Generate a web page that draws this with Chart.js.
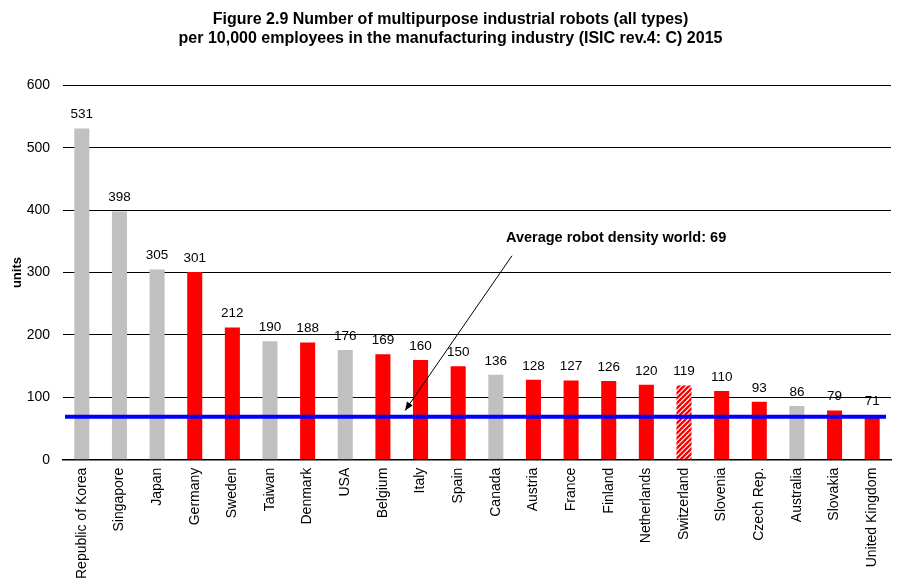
<!DOCTYPE html>
<html>
<head>
<meta charset="utf-8">
<script src="https://cdn.jsdelivr.net/npm/chart.js@4/dist/chart.umd.min.js"></script>
<style>
html,body{margin:0;padding:0;background:#fff;}
#wrap{width:900px;height:587px;}
</style>
</head>
<body>
<div id="wrap"><canvas id="c" width="900" height="587"></canvas></div>
<script>
const categories = ["Republic of Korea","Singapore","Japan","Germany","Sweden","Taiwan","Denmark","USA","Belgium","Italy","Spain","Canada","Austria","France","Finland","Netherlands","Switzerland","Slovenia","Czech Rep.","Australia","Slovakia","United Kingdom"];
const values = [531,398,305,301,212,190,188,176,169,160,150,136,128,127,126,120,119,110,93,86,79,71];
// bar type: g = grey, r = red, h = hatched red
const barKinds = ["g","g","g","r","r","g","r","g","r","r","r","g","r","r","r","r","h","r","r","g","r","r"];
const worldAverage = 69;
const yTicks = [0,100,200,300,400,500,600];
const titleLines = ["Figure 2.9 Number of multipurpose industrial robots (all types)","per 10,000 employees in the manufacturing industry (ISIC rev.4: C) 2015"];
const annotationText = "Average robot density world: " + worldAverage;
// annotation positions in data space (category index, value)
const arrowTail = [11.43, 327];
const arrowTip = [8.59, 79];
const textAnchor = [11.27, 355];

function hatch(){
  const s = 5;
  const cv = document.createElement('canvas');
  cv.width = s; cv.height = s;
  const x = cv.getContext('2d');
  x.fillStyle = '#fff'; x.fillRect(0,0,s,s);
  x.strokeStyle = '#ff0000'; x.lineWidth = 2.3;
  x.beginPath();
  x.moveTo(-1, s+1); x.lineTo(s+1, -1);
  x.moveTo(-1, 1); x.lineTo(1, -1);
  x.moveTo(s-1, s+1); x.lineTo(s+1, s-1);
  x.stroke();
  return x.createPattern(cv, 'repeat');
}
const hatchPat = hatch();
const colors = barKinds.map(k => k === 'g' ? '#c0c0c0' : (k === 'r' ? '#ff0000' : hatchPat));

const overlay = {
  id: 'overlay',
  afterDatasetsDraw(chart){
    const ctx = chart.ctx, xs = chart.scales.x, ys = chart.scales.y, ca = chart.chartArea;
    ctx.save();
    // value labels
    ctx.font = '13.5px "Liberation Sans", Arial, sans-serif';
    ctx.fillStyle = '#000';
    ctx.textAlign = 'center';
    ctx.textBaseline = 'bottom';
    const meta = chart.getDatasetMeta(0);
    meta.data.forEach((bar, i) => {
      ctx.fillText(String(values[i]), bar.x, bar.y - 7);
    });
    // average line
    const ay = ys.getPixelForValue(worldAverage);
    ctx.strokeStyle = '#0000ff';
    ctx.lineWidth = 4;
    ctx.beginPath();
    ctx.moveTo(ca.left + 2, ay);
    ctx.lineTo(ca.right - 5, ay);
    ctx.stroke();
    // arrow
    const tx = xs.getPixelForValue(arrowTail[0]), ty = ys.getPixelForValue(arrowTail[1]);
    const hx = xs.getPixelForValue(arrowTip[0]), hy = ys.getPixelForValue(arrowTip[1]);
    ctx.strokeStyle = '#000'; ctx.lineWidth = 1;
    ctx.beginPath(); ctx.moveTo(tx, ty); ctx.lineTo(hx, hy); ctx.stroke();
    const ang = Math.atan2(hy - ty, hx - tx), L = 9, W = 0.4;
    ctx.fillStyle = '#000';
    ctx.beginPath();
    ctx.moveTo(hx, hy);
    ctx.lineTo(hx - L*Math.cos(ang - W), hy - L*Math.sin(ang - W));
    ctx.lineTo(hx - L*Math.cos(ang + W), hy - L*Math.sin(ang + W));
    ctx.closePath(); ctx.fill();
    // annotation text
    ctx.font = 'bold 14.5px "Liberation Sans", Arial, sans-serif';
    ctx.textAlign = 'left';
    ctx.textBaseline = 'middle';
    ctx.fillText(annotationText, xs.getPixelForValue(textAnchor[0]), ys.getPixelForValue(textAnchor[1]));
    ctx.restore();
  }
};

Chart.defaults.font.family = '"Liberation Sans", Arial, sans-serif';
Chart.defaults.color = '#000';

new Chart(document.getElementById('c'), {
  type: 'bar',
  data: {
    labels: categories,
    datasets: [{
      data: values,
      backgroundColor: colors,
      borderWidth: 0,
      barPercentage: 0.4,
      categoryPercentage: 1.0
    }]
  },
  options: {
    responsive: false,
    animation: false,
    devicePixelRatio: 1,
    layout: { padding: { left: 10, right: 9, top: 0, bottom: 0 } },
    plugins: {
      legend: { display: false },
      tooltip: { enabled: false },
      title: {
        display: true,
        text: titleLines,
        font: { size: 16, weight: 'bold' },
        color: '#000',
        lineHeight: 1.2,
        padding: { top: 10, bottom: 37 }
      }
    },
    scales: {
      x: {
        grid: { display: false, drawTicks: false },
        border: { display: true, color: '#000', width: 1.5 },
        ticks: {
          font: { size: 14 },
          color: '#000',
          maxRotation: 90,
          minRotation: 90,
          autoSkip: false,
          padding: 8
        }
      },
      y: {
        min: 0,
        max: 600,
        afterBuildTicks: (ax) => { ax.ticks = yTicks.map(v => ({ value: v })); },
        afterFit: (ax) => { ax.width = 53; },
        grid: { color: '#000', lineWidth: 1, drawTicks: false },
        border: { display: false },
        ticks: { font: { size: 14 }, color: '#000', padding: 13 },
        title: {
          display: true,
          text: 'units',
          font: { size: 13, weight: 'bold' },
          color: '#000',
          padding: { top: 0, bottom: 1 }
        }
      }
    }
  },
  plugins: [overlay]
});
</script>
</body>
</html>
